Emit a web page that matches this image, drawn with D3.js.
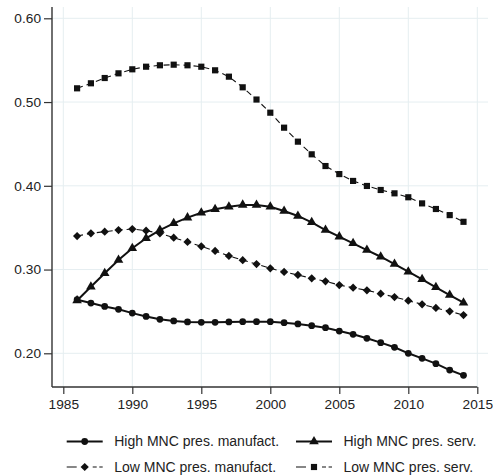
<!DOCTYPE html>
<html>
<head>
<meta charset="utf-8">
<script src="https://cdn.jsdelivr.net/npm/d3@7"></script>
<style>
  html, body { margin: 0; padding: 0; background: #fff; }
  svg { display: block; }
  text { font-family: "Liberation Sans", Arial, sans-serif; fill: #222; }
</style>
</head>
<body>
<svg id="chart" width="493" height="476"></svg>
<script>
// Years covered by every series
const years = d3.range(1986, 2015);

// Shares by MNC presence and sector
const highManufact = [0.264, 0.260, 0.256, 0.2525, 0.248, 0.244, 0.2406, 0.2386, 0.2374, 0.237,
  0.237, 0.2374, 0.2378, 0.2378, 0.2378, 0.2366, 0.235, 0.233, 0.2306, 0.2266,
  0.2227, 0.2179, 0.2127, 0.2072, 0.200, 0.194, 0.1876, 0.180, 0.1737];
const highServ = [0.263, 0.2795, 0.2955, 0.3114, 0.3254, 0.3373, 0.3472, 0.3552, 0.362, 0.3679,
  0.372, 0.375, 0.3772, 0.3771, 0.375, 0.3699, 0.364, 0.3564, 0.3472, 0.3393,
  0.3313, 0.3233, 0.3153, 0.3066, 0.2974, 0.2884, 0.2788, 0.2696, 0.2604];
const lowManufact = [0.340, 0.3433, 0.3452, 0.3472, 0.3484, 0.3464, 0.3433, 0.338, 0.3329, 0.3278,
  0.3222, 0.3162, 0.3112, 0.3066, 0.3015, 0.2971, 0.2935, 0.2896, 0.286, 0.2815,
  0.2783, 0.2752, 0.2712, 0.2672, 0.2628, 0.2585, 0.2541, 0.2501, 0.2457];
const lowServ = [0.5164, 0.5224, 0.5287, 0.5343, 0.5391, 0.5422, 0.5439, 0.5446, 0.5439, 0.5422,
  0.5379, 0.5303, 0.5176, 0.503, 0.4873, 0.4694, 0.4527, 0.4376, 0.4236, 0.414,
  0.4058, 0.3998, 0.395, 0.391, 0.3863, 0.379, 0.3723, 0.365, 0.357];

// Axis ticks
const xTicks = [1985, 1990, 1995, 2000, 2005, 2010, 2015];
const yTicks = [0.20, 0.30, 0.40, 0.50, 0.60];

// Series labels
const seriesNames = ["High MNC pres. manufact.", "High MNC pres. serv.",
  "Low MNC pres. manufact.", "Low MNC pres. serv."];

const series = [
  { name: seriesNames[0], values: highManufact, symbol: "circle", solid: true },
  { name: seriesNames[1], values: highServ, symbol: "triangle", solid: true },
  { name: seriesNames[2], values: lowManufact, symbol: "diamond", solid: false },
  { name: seriesNames[3], values: lowServ, symbol: "square", solid: false }
];

const svg = d3.select("#chart");
const ink = "#111";
const gridColor = "#e5eef1";
const dashes = "6,4";

const x = d3.scaleLinear().domain([1985, 2015]).range([63.3, 477.3]);
const y = d3.scaleLinear().domain([0.2, 0.6]).range([353.3, 18.3]);

const plotLeft = 52, plotRight = 488, plotTop = 7, plotBottom = 387;

// Grid
const grid = svg.append("g");
grid.selectAll("line.v").data(xTicks).join("line")
  .attr("x1", d => x(d)).attr("x2", d => x(d))
  .attr("y1", plotTop).attr("y2", plotBottom)
  .attr("stroke", gridColor).attr("stroke-width", 1);
grid.selectAll("line.h").data(yTicks).join("line")
  .attr("x1", plotLeft).attr("x2", plotRight)
  .attr("y1", d => y(d)).attr("y2", d => y(d))
  .attr("stroke", gridColor).attr("stroke-width", 1);

// Axes
const xAxis = d3.axisBottom(x).tickValues(xTicks).tickFormat(d3.format("d")).tickSize(7).tickPadding(5);
const yAxis = d3.axisLeft(y).tickValues(yTicks).tickFormat(d3.format(".2f")).tickSize(8).tickPadding(3);

const gx = svg.append("g").attr("transform", `translate(0,${plotBottom})`).call(xAxis);
const gy = svg.append("g").attr("transform", `translate(${plotLeft},0)`).call(yAxis);
[gx, gy].forEach(g => {
  g.select(".domain").remove();
  g.selectAll(".tick line").attr("stroke", "#333").attr("stroke-width", 1.2);
  g.selectAll(".tick text").style("font-size", "13.7px").attr("fill", "#222")
    .style("font-family", "'Liberation Sans', Arial, sans-serif");
});
svg.append("line").attr("x1", plotLeft).attr("x2", x(2015))
  .attr("y1", plotBottom).attr("y2", plotBottom).attr("stroke", "#333").attr("stroke-width", 1.4);
svg.append("line").attr("x1", plotLeft).attr("x2", plotLeft)
  .attr("y1", plotTop).attr("y2", plotBottom).attr("stroke", "#333").attr("stroke-width", 1.4);

// Marker shapes
const symbolFor = {
  circle: d3.symbol().type(d3.symbolCircle).size(36),
  triangle: d3.symbol().type(d3.symbolTriangle).size(40),
  diamond: d3.symbol().type(d3.symbolSquare).size(34),
  square: d3.symbol().type(d3.symbolSquare).size(38)
};
const rotFor = { circle: 0, triangle: 0, diamond: 45, square: 0 };

const line = d3.line().x(d => x(d.year)).y(d => y(d.value));

series.forEach(s => {
  const pts = years.map((yr, i) => ({ year: yr, value: s.values[i] }));
  svg.append("path").datum(pts)
    .attr("d", line).attr("fill", "none").attr("stroke", ink)
    .attr("stroke-width", s.solid ? 2 : 1.1)
    .attr("stroke-dasharray", s.solid ? null : dashes);
  svg.append("g").selectAll("path").data(pts).join("path")
    .attr("d", symbolFor[s.symbol])
    .attr("transform", d => `translate(${x(d.year)},${y(d.value)}) rotate(${rotFor[s.symbol]})`)
    .attr("fill", ink);
});

// Legend
const legend = svg.append("g");
const legendCols = [66.7, 296];
const legendRows = [441.5, 467];
series.forEach((s, i) => {
  const lx = legendCols[i % 2], ly = legendRows[Math.floor(i / 2)];
  const g = legend.append("g").attr("transform", `translate(${lx},${ly})`);
  g.append("line").attr("x1", 0).attr("x2", 36).attr("y1", 0).attr("y2", 0)
    .attr("stroke", ink).attr("stroke-width", s.solid ? 2 : 1.1)
    .attr("stroke-dasharray", s.solid ? null : "10,16,4,2.6,4");
  g.append("path").attr("d", symbolFor[s.symbol])
    .attr("transform", `translate(18,0) rotate(${rotFor[s.symbol]})`).attr("fill", ink);
  g.append("text").attr("x", 47.5).attr("y", 0).attr("dy", "0.35em")
    .style("font-size", "14px").text(s.name);
});
</script>
</body>
</html>
